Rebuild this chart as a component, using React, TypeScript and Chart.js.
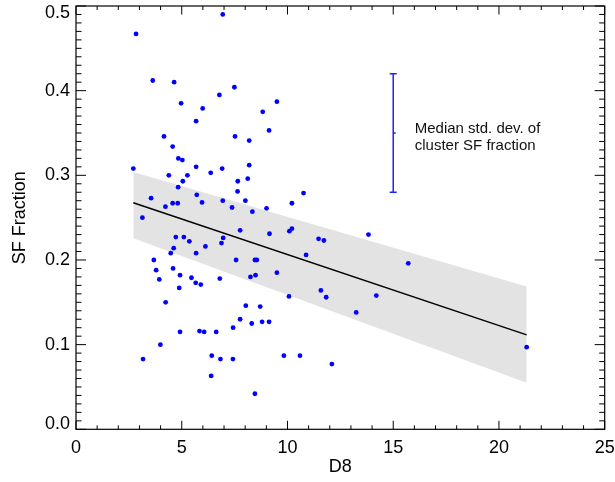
import React, { useEffect, useRef } from 'react';
import { Chart, registerables } from 'chart.js';

Chart.register(...registerables);

const FONT = '"Liberation Sans", Arial, Helvetica, sans-serif';

// Scatter data (D8 vs SF fraction)
const d8 = [
  6.94, 2.84, 3.63, 4.64, 7.49, 6.78, 4.97, 5.99, 5.68, 4.16, 7.52, 8.19, 4.57, 4.84, 5.03, 9.5, 8.83, 9.13,
  2.71, 5.68, 6.91, 8.19, 4.39, 5.27, 5.05, 6.37, 7.65, 8.12, 4.83, 7.64, 5.71, 8.01, 3.55, 6.94, 5.96, 4.57,
  4.81, 4.23, 7.38, 8.34, 3.14, 7.76, 4.72, 5.1, 6.96, 5.36, 6.88, 6.12, 4.62, 4.48, 5.68, 3.68, 7.57, 8.46,
  8.55, 3.79, 4.59, 3.94, 4.92, 5.46, 6.8, 5.66, 5.9, 4.88, 8.25, 8.49,
  10.76, 10.21, 9.01, 9.15, 10.09, 10.21, 11.47, 11.72, 13.83, 10.88, 15.71, 9.5, 10.07, 11.58, 11.83, 14.2,
  8.03, 8.71, 13.25, 7.76, 8.31, 8.8, 9.13, 9.83, 10.59, 12.1, 8.46,
  4.24, 4.92, 5.84, 6.06, 6.63, 7.43, 3.99, 3.17, 6.42, 6.83, 7.42, 6.39,
  21.31,
];
const sfFraction = [
  0.49, 0.467, 0.412, 0.41, 0.404, 0.395, 0.385, 0.379, 0.364, 0.346, 0.346, 0.341, 0.334, 0.32, 0.318, 0.387, 0.375, 0.353,
  0.308, 0.31, 0.308, 0.312, 0.3, 0.3, 0.293, 0.303, 0.293, 0.296, 0.286, 0.281, 0.277, 0.27, 0.273, 0.27, 0.268, 0.267,
  0.267, 0.263, 0.262, 0.257, 0.25, 0.235, 0.227, 0.227, 0.226, 0.222, 0.22, 0.216, 0.214, 0.208, 0.208, 0.2, 0.2, 0.2,
  0.2, 0.188, 0.19, 0.177, 0.182, 0.179, 0.178, 0.173, 0.171, 0.167, 0.18, 0.182,
  0.279, 0.267, 0.261, 0.231, 0.234, 0.237, 0.225, 0.223, 0.23, 0.206, 0.196, 0.185, 0.157, 0.164, 0.156, 0.158,
  0.146, 0.145, 0.138, 0.13, 0.125, 0.127, 0.127, 0.087, 0.087, 0.077, 0.042,
  0.15, 0.115, 0.116, 0.115, 0.115, 0.12, 0.1, 0.083, 0.087, 0.083, 0.083, 0.063,
  0.097,
];

// Linear fit and its confidence band
const fitX = [2.71, 21.31];
const fitY = [0.2675, 0.1115];
const bandUpper = [0.304, 0.1686];
const bandLower = [0.2258, 0.0551];

// Median std. dev. error bar
const errX = 15;
const errY = [0.28, 0.35, 0.42];
const annotationLines = ['Median std. dev. of', 'cluster SF fraction'];

// Axes
const xMin = 0, xMax = 25, xStep = 5, xMinor = 1;
const yMin = 0, yMax = 0.5, yStep = 0.1, yMinor = 0.01;
const xTitle = 'D8';
const yTitle = 'SF Fraction';

const framePlugin = {
  id: 'idlFrame',
  afterDatasetsDraw(chart: any) {
    const { ctx, chartArea: a, scales } = chart;
    const xs = scales.x, ys = scales.y;
    ctx.save();
    ctx.strokeStyle = '#000';
    ctx.lineWidth = 1.2;
    ctx.strokeRect(a.left, a.top, a.right - a.left, a.bottom - a.top);
    ctx.lineWidth = 1;
    ctx.beginPath();
    const nx = Math.round((xMax - xMin) / xMinor);
    for (let i = 0; i <= nx; i++) {
      const v = xMin + i * xMinor;
      const px = xs.getPixelForValue(v);
      const major = Math.abs(v / xStep - Math.round(v / xStep)) < 1e-6;
      const len = major ? 8.5 : 4;
      ctx.moveTo(px, a.bottom); ctx.lineTo(px, a.bottom - len);
      ctx.moveTo(px, a.top); ctx.lineTo(px, a.top + len);
    }
    const ny = Math.round((yMax - yMin) / yMinor);
    for (let i = 0; i <= ny; i++) {
      const v = yMin + i * yMinor;
      const py = ys.getPixelForValue(v);
      const major = i % Math.round(yStep / yMinor) === 0;
      const len = major ? 10 : 5.5;
      ctx.moveTo(a.left, py); ctx.lineTo(a.left + len, py);
      ctx.moveTo(a.right, py); ctx.lineTo(a.right - len, py);
    }
    ctx.stroke();

    // annotation next to the error bar
    ctx.fillStyle = '#111';
    ctx.font = `15px ${FONT}`;
    ctx.textAlign = 'left';
    ctx.textBaseline = 'alphabetic';
    const tx = xs.getPixelForValue(errX) + 21.5;
    const ty = ys.getPixelForValue((errY[0] + errY[2]) / 2);
    ctx.fillText(annotationLines[0], tx, ty + 0.5);
    ctx.fillText(annotationLines[1], tx, ty + 17);
    ctx.restore();
  },
};

export default function App() {
  const ref = useRef<HTMLCanvasElement | null>(null);
  useEffect(() => {
    if (!ref.current) return;
    const points = d8.map((x, i) => ({ x, y: sfFraction[i] }));
    const chart = new Chart(ref.current, {
      type: 'scatter',
      data: {
        datasets: [
          {
            label: 'clusters',
            data: points,
            backgroundColor: '#0000ff',
            borderColor: '#0000ff',
            borderWidth: 0,
            pointRadius: 2.4,
            pointHoverRadius: 2.4,
          },
          {
            type: 'line',
            label: 'error',
            data: errY.map((y) => ({ x: errX, y })),
            borderColor: '#2020ff',
            borderWidth: 1.5,
            pointStyle: ['line', 'dash', 'line'] as any,
            pointRadius: [3.5, 2.5, 3.5] as any,
            pointBorderColor: '#2020ff',
            pointBorderWidth: 1.5,
            showLine: true,
            fill: false,
          },
          {
            type: 'line',
            label: 'fit',
            data: fitX.map((x, i) => ({ x, y: fitY[i] })),
            borderColor: '#000',
            borderWidth: 1.5,
            pointRadius: 0,
            showLine: true,
            fill: false,
          },
          {
            type: 'line',
            label: 'bandUpper',
            data: fitX.map((x, i) => ({ x, y: bandUpper[i] })),
            borderWidth: 0,
            borderColor: 'rgba(0,0,0,0)',
            backgroundColor: '#e3e3e3',
            pointRadius: 0,
            showLine: true,
            fill: '+1',
          },
          {
            type: 'line',
            label: 'bandLower',
            data: fitX.map((x, i) => ({ x, y: bandLower[i] })),
            borderWidth: 0,
            borderColor: 'rgba(0,0,0,0)',
            pointRadius: 0,
            showLine: true,
            fill: false,
          },
        ],
      },
      options: {
        animation: false,
        responsive: false,
        devicePixelRatio: 1,
        layout: { padding: { left: 0, top: 6, right: 10.3, bottom: 0 } },
        plugins: { legend: { display: false }, tooltip: { enabled: false }, title: { display: false } },
        scales: {
          x: {
            type: 'linear',
            min: xMin,
            max: xMax,
            grid: { display: false, drawTicks: false },
            border: { display: false },
            ticks: {
              stepSize: xStep,
              padding: 8,
              color: '#000',
              maxRotation: 0,
              font: { family: FONT, size: 18 },
              callback: (v: any) => String(v),
            },
            title: {
              display: true,
              text: xTitle,
              color: '#000',
              font: { family: FONT, size: 18 },
              padding: { top: 0, bottom: 4 },
            },
            afterFit: (s: any) => {
              s.height = 52.7;
              s.paddingLeft = 0;
              s.paddingRight = 0;
            },
          },
          y: {
            type: 'linear',
            min: yMin,
            max: yMax,
            grid: { display: false, drawTicks: false },
            border: { display: false },
            ticks: {
              stepSize: yStep,
              padding: 6,
              color: '#000',
              font: (c: any) => {
                const v = c.tick ? c.tick.value : 0.25;
                let lh = 1.2;
                if (Math.abs(v - yMax) < 1e-9) lh = 14 / 18;
                else if (Math.abs(v - yMin) < 1e-9) lh = 10.6 / 18;
                return { family: FONT, size: 18, lineHeight: lh };
              },
              callback: (v: any) => {
                const s = Number(v).toFixed(1);
                if (Math.abs(v - yMax) < 1e-9) return ['', s];
                if (Math.abs(v - yMin) < 1e-9) return [s, ''];
                return s;
              },
            },
            title: {
              display: true,
              text: yTitle,
              color: '#000',
              font: { family: FONT, size: 18 },
              padding: { top: 9, bottom: 0 },
            },
            afterFit: (s: any) => {
              s.width = 76;
              s.paddingTop = 0;
              s.paddingBottom = 0;
            },
          },
        },
      },
      plugins: [framePlugin],
    });
    return () => chart.destroy();
  }, []);

  return (
    <div style={{ position: 'absolute', left: 0, top: 0, width: 615, height: 482, background: '#fff' }}>
      <canvas ref={ref} width={615} height={482} style={{ display: 'block' }} />
    </div>
  );
}
